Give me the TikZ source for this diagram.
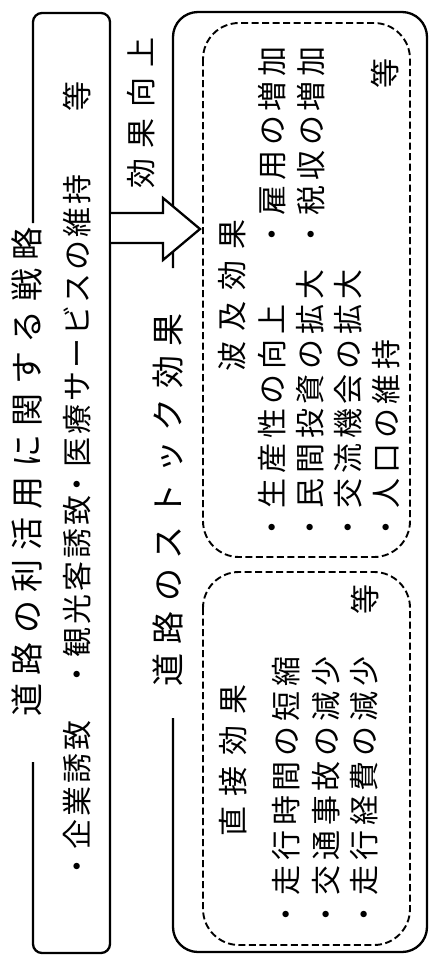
\documentclass[tikz,border=0pt]{standalone}
\usepackage{fontspec}
\setmainfont{Noto Sans CJK JP}
\def\jsp#1#2{\def\jspk{#1}\jspfirst#2\relax}
\def\jspfirst#1{#1\jsprest}
\def\jsprest#1{\ifx\relax#1\else\kern\jspk\relax#1\expandafter\jsprest\fi}
\tikzset{
  txt/.style={rotate=90, anchor=west, inner sep=0pt, text height=24.9pt, text depth=2.1pt, font=\fontsize{30pt}{30pt}\selectfont},
  ttl/.style={rotate=90, anchor=west, inner sep=0pt, text height=27.4pt, text depth=2.3pt, font=\fontsize{33pt}{33pt}\selectfont},
  solidline/.style={line width=2.3pt},
  dashline/.style={line width=1.9pt, dash pattern=on 7pt off 3.5pt},
}
\begin{document}
\begin{tikzpicture}[x=1pt,y=-1pt]
\useasboundingbox (0,0) rectangle (430,967);
% strategy box
\draw[solidline, rounded corners=9pt] (33,223) -- (33,13) -- (110,13) -- (110,953) -- (33,953) -- (33,762);
% stock effect box
\draw[solidline, rounded corners=25pt] (173,268) -- (173,12) -- (427,12) -- (427,952) -- (173,952) -- (173,718);
% dashed boxes
\draw[dashline, rounded corners=36pt] (203,23) rectangle (410,557);
\draw[dashline, rounded corners=36pt] (203,572) rectangle (410,945);
% arrow
\draw[solidline, fill=white, line join=miter] (111,213) -- (163,213) -- (163,198) -- (200,229) -- (163,260) -- (163,243) -- (111,243);
% titles
\node[ttl] (t1) at (27,717) {\jsp{8.5pt}{道路の利活用に関する戦略}};
\node[ttl] (t2) at (168,687) {\jsp{9.6pt}{道路のストック効果}};
\node[txt] (up) at (141.5,189) {\jsp{10.5pt}{効果向上}};
% strategy items
\node[txt] (s1) at (77,882) {\jsp{2.8pt}{・企業誘致}};
\node[txt] (s2) at (77,690) {\jsp{2.8pt}{・観光客誘致}};
\node[txt] (s3) at (77,500) {\jsp{2.8pt}{・医療サービスの維持}};
\node[txt] (s4) at (77,112) {等};
% ripple effects
\node[txt] (h1) at (232,372) {\jsp{10.7pt}{波及効果}};
\node[txt] (a1) at (272,543) {\jsp{4.7pt}{・生産性の向上}};
\node[txt] (a2) at (310.5,543) {\jsp{4.7pt}{・民間投資の拡大}};
\node[txt] (a3) at (348,543) {\jsp{4.7pt}{・交流機会の拡大}};
\node[txt] (a4) at (386,543) {\jsp{4.7pt}{・人口の維持}};
\node[txt] (a5) at (272,250) {\jsp{4.7pt}{・雇用の増加}};
\node[txt] (a6) at (311,250) {\jsp{4.7pt}{・税収の増加}};
\node[txt] (a7) at (385,89) {等};
% direct effects
\node[txt] (h2) at (233,837) {\jsp{10.7pt}{直接効果}};
\node[txt] (b1) at (286,930) {\jsp{4.7pt}{・走行時間の短縮}};
\node[txt] (b2) at (326,930) {\jsp{4.7pt}{・交通事故の減少}};
\node[txt] (b3) at (364,930) {\jsp{4.7pt}{・走行経費の減少}};
\node[txt] (b4) at (365,615) {等};
\end{tikzpicture}
\end{document}
